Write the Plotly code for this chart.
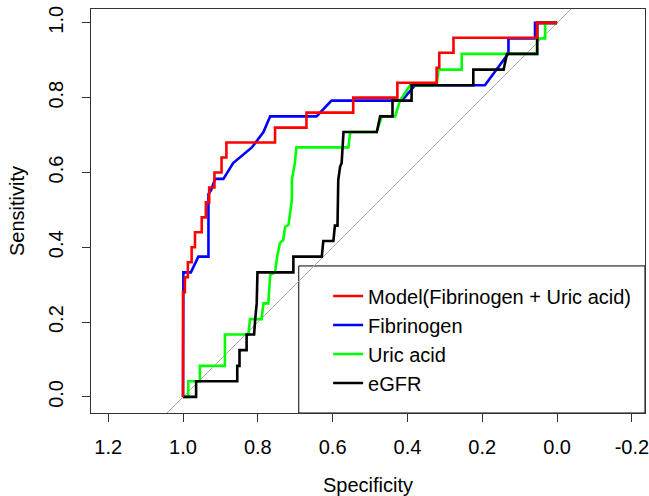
import plotly.graph_objects as go

# ---- data (specificity, sensitivity vertices) ----
spec_model = [1.0, 1.0, 0.995, 0.995, 0.987, 0.987, 0.977, 0.977, 0.968, 0.968, 0.950, 0.950,
              0.939, 0.939, 0.930, 0.930, 0.916, 0.916, 0.897, 0.897, 0.884, 0.884, 0.754, 0.754,
              0.670, 0.670, 0.545, 0.545, 0.427, 0.427, 0.322, 0.322, 0.315, 0.315, 0.277, 0.277,
              0.054, 0.054, 0.0]
sens_model = [0.0, 0.28, 0.28, 0.32, 0.32, 0.36, 0.36, 0.40, 0.40, 0.44, 0.44, 0.48,
              0.48, 0.52, 0.52, 0.56, 0.56, 0.60, 0.60, 0.64, 0.64, 0.68, 0.68, 0.72,
              0.72, 0.76, 0.76, 0.80, 0.80, 0.84, 0.84, 0.88, 0.88, 0.92, 0.92, 0.96,
              0.96, 1.0, 1.0]

spec_fib = [1.0, 1.0, 0.999, 0.999, 0.979, 0.959, 0.932, 0.932, 0.925, 0.914, 0.892, 0.866,
            0.816, 0.785, 0.767, 0.643, 0.603, 0.415, 0.38, 0.193, 0.134, 0.13, 0.13,
            0.059, 0.059, 0.0]
sens_fib = [0.0, 0.292, 0.292, 0.333, 0.333, 0.375, 0.375, 0.542, 0.553, 0.583, 0.583, 0.625,
            0.667, 0.708, 0.75, 0.75, 0.792, 0.792, 0.833, 0.833, 0.913, 0.917, 0.958,
            0.958, 1.0, 1.0]

spec_uric = [1.0, 0.986, 0.986, 0.955, 0.955, 0.888, 0.888, 0.825, 0.821, 0.79, 0.785, 0.772,
             0.767, 0.754, 0.749, 0.741, 0.732, 0.727, 0.718, 0.714, 0.709, 0.709, 0.701,
             0.697, 0.558, 0.553, 0.482, 0.469, 0.433, 0.42, 0.393, 0.322, 0.317, 0.255,
             0.255, 0.054, 0.054, 0.032, 0.032, 0.0]
sens_uric = [0.0, 0.0, 0.042, 0.042, 0.083, 0.083, 0.167, 0.167, 0.208, 0.208, 0.25, 0.25,
             0.326, 0.333, 0.371, 0.411, 0.42, 0.455, 0.46, 0.491, 0.527, 0.58, 0.625,
             0.667, 0.667, 0.708, 0.708, 0.75, 0.75, 0.792, 0.833, 0.833, 0.875, 0.875,
             0.917, 0.917, 0.958, 0.958, 1.0, 1.0]

spec_egfr = [1.0, 0.965, 0.965, 0.855, 0.855, 0.849, 0.849, 0.83, 0.83, 0.81, 0.807, 0.803,
             0.801, 0.705, 0.705, 0.629, 0.625, 0.598, 0.594, 0.587, 0.585, 0.58, 0.576,
             0.571, 0.482, 0.473, 0.44, 0.44, 0.389, 0.389, 0.224, 0.224, 0.143, 0.134,
             0.053, 0.053, 0.053, 0.0]
sens_egfr = [0.0, 0.0, 0.042, 0.042, 0.083, 0.083, 0.125, 0.125, 0.167, 0.167, 0.208, 0.25,
             0.333, 0.333, 0.375, 0.375, 0.417, 0.417, 0.458, 0.458, 0.58, 0.616, 0.625,
             0.708, 0.708, 0.75, 0.75, 0.792, 0.792, 0.833, 0.833, 0.875, 0.875, 0.917,
             0.917, 0.958, 1.0, 1.0]

names = ["Model(Fibrinogen + Uric acid)", "Fibrinogen", "Uric acid", "eGFR"]
colors = ["#ff0000", "#0000ff", "#00ff00", "#000000"]

x_ticks = [1.2, 1.0, 0.8, 0.6, 0.4, 0.2, 0.0, -0.2]
x_ticktext = ["1.2", "1.0", "0.8", "0.6", "0.4", "0.2", "0.0", "-0.2"]
y_ticks = [0.0, 0.2, 0.4, 0.6, 0.8, 1.0]
y_ticktext = ["0.0", "0.2", "0.4", "0.6", "0.8", "1.0"]
diag_spec = [1.3, -0.3]
diag_sens = [-0.3, 1.3]

FONT = "Liberation Sans, Arial, sans-serif"
BOX = "#333333"

fig = go.Figure()
fig.add_trace(go.Scatter(x=diag_spec, y=diag_sens, mode="lines",
                         line=dict(color="#aaaaaa", width=1), showlegend=False,
                         hoverinfo="skip"))

series = {
    "Model(Fibrinogen + Uric acid)": (spec_model, sens_model),
    "Fibrinogen": (spec_fib, sens_fib),
    "Uric acid": (spec_uric, sens_uric),
    "eGFR": (spec_egfr, sens_egfr),
}
draw_order = ["Fibrinogen", "Uric acid", "eGFR", "Model(Fibrinogen + Uric acid)"]
for nm in draw_order:
    i = names.index(nm)
    sx, sy = series[nm]
    fig.add_trace(go.Scatter(x=sx, y=sy, mode="lines", name=nm,
                             line=dict(color=colors[i], width=2.6),
                             legendrank=i + 1))

W, H = 649, 496
L, R, T, B = 91, 4, 9, 83

fig.update_layout(
    width=W, height=H,
    margin=dict(l=L, r=R, t=T, b=B, autoexpand=False),
    paper_bgcolor="white", plot_bgcolor="white",
    font=dict(family=FONT, size=20, color="#000000"),
    showlegend=True,
    legend=dict(x=0.428, y=0.338, xanchor="left", yanchor="top",
                bgcolor="rgba(0,0,0,0)", borderwidth=0,
                font=dict(family=FONT, size=20, color="#000000"),
                traceorder="normal"),
    xaxis=dict(range=[1.246, -0.235], tickvals=x_ticks, ticktext=x_ticktext,
               ticks="outside", ticklen=8, tickcolor=BOX, tickwidth=1,
               showline=True, linecolor=BOX, linewidth=1, mirror=True,
               showgrid=False, zeroline=False, automargin=False,
               ticklabelstandoff=8, ticklabeloverflow="allow",
               title=dict(text="Specificity", standoff=26, font=dict(size=20))),
    yaxis=dict(range=[-0.043, 1.037], tickvals=y_ticks, ticktext=y_ticktext,
               ticks="outside", ticklen=8, tickcolor=BOX, tickwidth=1,
               showline=True, linecolor=BOX, linewidth=1, mirror=True,
               showgrid=False, zeroline=False, tickangle=-90, automargin=False,
               ticklabelstandoff=11, ticklabeloverflow="allow",
               title=dict(text="Sensitivity", standoff=15, font=dict(size=20))),
    shapes=[dict(type="rect", xref="paper", yref="paper",
                 x0=0.375, x1=1.0, y0=0.0, y1=0.364,
                 line=dict(color="#000000", width=1), fillcolor="white", layer="below")],
)

fig.write_html("out.html", config={"displayModeBar": False},
               post_script="document.body.style.margin='0';document.body.style.overflow='hidden';")
